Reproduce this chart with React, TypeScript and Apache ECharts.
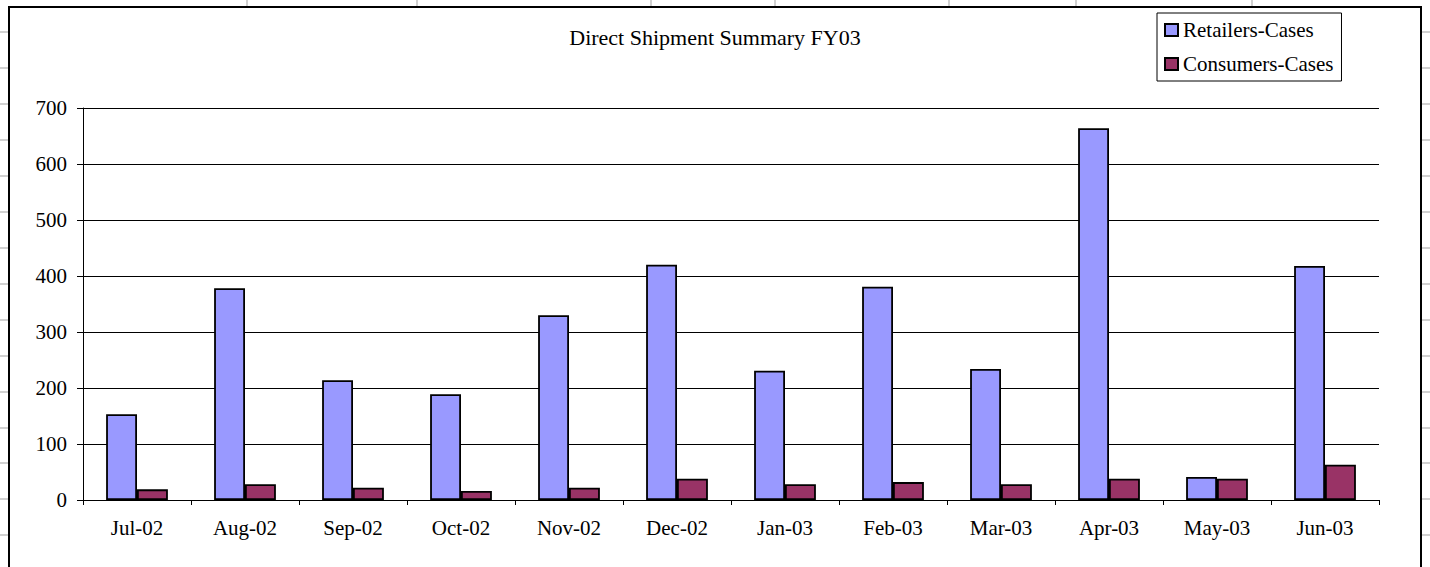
import React, { useEffect, useRef } from "react";
import * as echarts from "echarts";

const categories = ["Jul-02", "Aug-02", "Sep-02", "Oct-02", "Nov-02", "Dec-02", "Jan-03", "Feb-03", "Mar-03", "Apr-03", "May-03", "Jun-03"];
const retailers = [153, 378, 214, 189, 330, 420, 231, 381, 234, 664, 41, 418];
const consumers = [19, 28, 22, 16, 22, 38, 28, 32, 28, 38, 38, 63];
const seriesNames = ["Retailers-Cases", "Consumers-Cases"];
const titleText = "Direct Shipment Summary FY03";

const sheetRowYs = [32, 68, 104, 140, 176, 212, 248, 284, 320, 356, 392, 428, 463, 499, 535];
const sheetColXs = [247, 417, 651, 775, 949, 1076, 1252];

const FONT = "'Liberation Serif', 'Times New Roman', serif";

export default function App() {
  const ref = useRef<HTMLDivElement>(null);
  useEffect(() => {
    document.body.style.margin = "0";
    const chart = echarts.init(ref.current!, null, { renderer: "svg" });
    const sheetLine = { stroke: "#c0c0c0", lineWidth: 1.5 };
    const graphics: any[] = [];
    sheetRowYs.forEach((y) => {
      graphics.push({ type: "line", silent: true, z: -10, shape: { x1: 0, y1: y, x2: 9, y2: y }, style: sheetLine });
      graphics.push({ type: "line", silent: true, z: -10, shape: { x1: 1421, y1: y, x2: 1430, y2: y }, style: sheetLine });
    });
    sheetColXs.forEach((x) => {
      graphics.push({ type: "line", silent: true, z: -10, shape: { x1: x, y1: 0, x2: x, y2: 7 }, style: sheetLine });
    });
    graphics.push({
      type: "rect",
      silent: true,
      z: -5,
      shape: { x: 9, y: 7, width: 1412, height: 620 },
      style: { fill: "#fff", stroke: "#000", lineWidth: 2 },
    });

    chart.setOption({
      animation: false,
      backgroundColor: "#fff",
      textStyle: { fontFamily: FONT, color: "#000" },
      title: {
        text: titleText,
        left: "center",
        top: 25,
        padding: 0,
        textStyle: { fontFamily: FONT, fontSize: 22, fontWeight: "normal", color: "#000", lineHeight: 24 },
      },
      legend: {
        data: seriesNames,
        orient: "vertical",
        left: 1157,
        top: 13,
        padding: [6, 8, 6, 7],
        itemWidth: 13,
        itemHeight: 12,
        itemGap: 12,
        icon: "rect",
        borderColor: "#000",
        borderWidth: 1,
        backgroundColor: "#fff",
        textStyle: { fontFamily: FONT, fontSize: 21, color: "#000", lineHeight: 22 },
      },
      grid: { left: 83, right: 51, top: 108, bottom: 67 },
      xAxis: {
        type: "category",
        data: categories,
        axisLine: { lineStyle: { color: "#000", width: 1 } },
        axisTick: { show: true, length: 5, lineStyle: { color: "#000" } },
        axisLabel: { fontFamily: FONT, fontSize: 21, color: "#000", margin: 17 },
      },
      yAxis: {
        type: "value",
        min: 0,
        max: 700,
        interval: 100,
        axisLine: { show: true, lineStyle: { color: "#000", width: 1 } },
        axisTick: { show: true, length: 6, lineStyle: { color: "#000" } },
        axisLabel: { fontFamily: FONT, fontSize: 21, color: "#000", margin: 16 },
        splitLine: { show: true, lineStyle: { color: "#000", width: 1 } },
      },
      series: [
        {
          name: seriesNames[0],
          type: "bar",
          data: retailers,
          barGap: "0%",
          barCategoryGap: "42.8%",
          itemStyle: { color: "#9999FF", borderColor: "#000", borderWidth: 1.8 },
        },
        {
          name: seriesNames[1],
          type: "bar",
          data: consumers,
          barGap: "0%",
          barCategoryGap: "42.8%",
          itemStyle: { color: "#993366", borderColor: "#000", borderWidth: 1.8 },
        },
      ],
      graphic: graphics,
    });
    return () => chart.dispose();
  }, []);
  return <div ref={ref} style={{ width: 1430, height: 567 }} />;
}
